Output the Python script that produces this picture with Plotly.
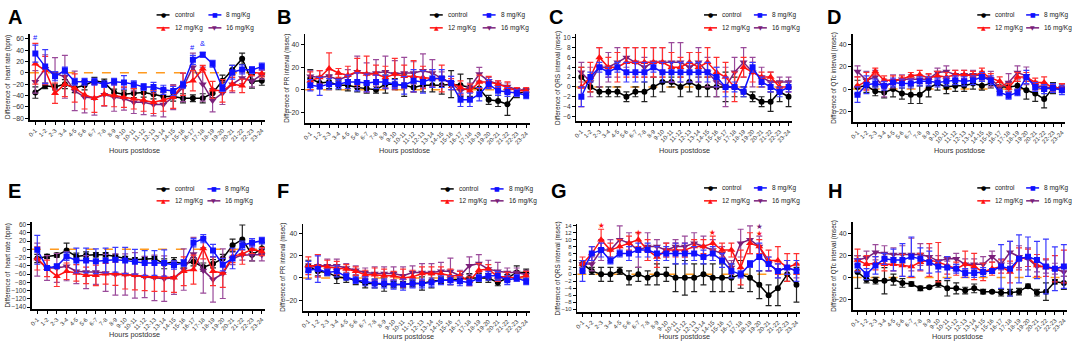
import plotly.graph_objects as go

hours = ["0-1", "1-2", "2-3", "3-4", "4-5", "5-6", "6-7", "7-8", "8-9", "9-10", "10-11", "11-12",
         "12-13", "13-14", "14-15", "15-16", "16-17", "17-18", "18-19", "19-20", "20-21", "21-22",
         "22-23", "23-24"]
series_names = ["control", "8 mg/Kg", "12 mg/Kg", "16 mg/Kg"]

# ---- Panel A: heart rate (top row)
A_ctrl = [-35, -23, -25, -20, -27, -22, -14, -17, -35, -38, -36, -35, -38, -42, -42, -45, -45, -45, -36, -14, 5, 25, -15, -14]
A_8 = [34, 11, -6, 4, -16, -16, -16, -20, -16, -17, -20, -25, -25, -30, -32, -21, 23, 32, 16, -27, 1, 6, 5, 11]
A_12 = [16, 4, -36, -20, -27, -39, -45, -38, -40, -43, -46, -48, -52, -48, -43, -20, -14, 7, -30, -32, -20, -23, 1, -1]
A_16 = [-16, 7, -1, -7, -32, -43, -45, -39, -43, -46, -52, -52, -56, -56, -43, -26, 10, -20, -49, -36, -20, -9, -15, -3]
A_ctrl_e = [10, 5, 5, 8, 8, 8, 6, 6, 6, 6, 8, 8, 8, 8, 8, 8, 6, 8, 8, 10, 8, 10, 12, 8]
A_8_e = [15, 30, 8, 6, 6, 6, 6, 6, 6, 12, 6, 6, 8, 8, 8, 6, 8, 4, 6, 6, 12, 8, 6, 6]
A_12_e = [36, 25, 18, 22, 25, 25, 25, 20, 20, 18, 18, 20, 20, 20, 20, 20, 18, 6, 15, 20, 12, 12, 6, 6]
A_16_e = [20, 25, 28, 38, 35, 28, 30, 20, 25, 20, 20, 22, 20, 22, 22, 25, 25, 30, 20, 20, 15, 10, 10, 8]

# ---- Panel B: PR interval
B_ctrl = [10, 6, 7, 4, 4, 2, 1, 0, 5, 5, 4, 2, 4, 4, 4, 5, 4, 2, 1, -9, -10, -13, -3, -2]
B_8 = [4, 3, 5, 5, 7, 7, 6, 7, 7, 5, 4, 8, 7, 10, 10, 6, -9, -9, -4, 5, -1, -2, -3, -5]
B_12 = [8, 11, 19, 15, 13, 16, 14, 14, 11, 14, 12, 12, 11, 10, 10, 6, 2, -1, 7, 7, 5, 2, -1, -1]
B_16 = [12, 11, 12, 9, 12, 16, 14, 15, 16, 14, 15, 15, 17, 15, 10, 6, -1, 2, 14, 8, 5, 3, 0, -0.5]
B_ctrl_e = [8, 5, 6, 4, 5, 4, 4, 3, 8, 5, 10, 4, 6, 6, 8, 12, 10, 8, 6, 4, 5, 10, 4, 3]
B_8_e = [5, 8, 5, 4, 6, 8, 8, 6, 6, 4, 8, 10, 10, 8, 8, 6, 6, 6, 6, 4, 4, 4, 3, 3]
B_12_e = [8, 6, 14, 4, 8, 12, 16, 8, 10, 14, 10, 14, 10, 8, 12, 4, 6, 6, 6, 5, 3, 5, 3, 3]
B_16_e = [5, 6, 6, 5, 6, 14, 10, 12, 14, 12, 14, 10, 15, 12, 6, 6, 4, 4, 6, 3, 3, 3, 2, 2]

# ---- Panel C: QRS interval
C_ctrl = [2, 0, -1, -1, -1, -2, -1, -1, 0, 1, 1, 0, 1, 0, 0, 0, 0, 0, -1, -2, -3, -3, -1, -2]
C_8 = [-2, 2, 4, 3, 4, 3, 3, 3, 4, 3, 3, 3, 3, 3, 3, 2, 0, 0, -1, 4, 1, 0, -1, 0]
C_12 = [0, 2, 6, 4, 4, 5, 5, 5, 5, 5, 4, 4, 5, 4, 5, 3, 2, 0, 4, 3, 2, 2, 0, 0]
C_16 = [3, 1, 4, 4, 5, 6, 5, 4, 5, 5, 5, 5, 4, 5, 3, 1, 0, 3, 5, 3, 2, 1, 1, 1]
C_ctrl_e = [2, 1, 1, 1, 1, 1, 1, 2, 2, 2, 1, 2, 2, 2, 2, 2, 3, 2, 1, 1, 1, 2, 2, 2]
C_8_e = [2, 1, 1, 1, 1, 2, 2, 2, 1, 2, 2, 2, 2, 2, 2, 2, 2, 1, 1, 1, 1, 1, 1, 1]
C_12_e = [4, 3, 2, 2, 3, 3, 3, 3, 3, 3, 3, 2, 2, 3, 3, 3, 3, 3, 2, 2, 1, 1, 1, 1]
C_16_e = [2, 3, 4, 3, 3, 2, 3, 2, 3, 3, 4, 4, 3, 3, 3, 3, 4, 3, 3, 3, 2, 2, 1, 1]

# ---- Panel D: QTc interval
D_ctrl = [2, 3, -2, -3, 0, -4, -5, -5, 1, 5, 2, 3, 3, 5, 3, 5, 2, 2, 3, -1, -4, -9, 1, 1]
D_8 = [-5, 4, 5, 3, 6, 5, 5, 7, 7, 6, 7, 8, 7, 8, 11, 8, -3, -6, -3, 11, 2, 0, 1, -1]
D_12 = [3, 7, 16, 8, 8, 9, 12, 13, 10, 12, 11, 13, 13, 12, 15, 10, 7, 1, 11, 11, 6, 6, 1, 1]
D_16 = [16, 8, 11, 1, 7, 9, 9, 9, 9, 15, 16, 13, 13, 13, 12, 9, 2, 6, 15, 12, 3, 2, 1, 1]
D_ctrl_e = [6, 6, 4, 5, 7, 5, 8, 8, 8, 6, 6, 5, 5, 5, 4, 4, 4, 4, 4, 8, 7, 8, 5, 4]
D_8_e = [7, 8, 4, 4, 4, 4, 4, 4, 4, 4, 4, 4, 4, 4, 4, 4, 3, 3, 3, 6, 4, 4, 4, 4]
D_12_e = [8, 8, 3, 4, 4, 3, 3, 4, 4, 4, 4, 4, 4, 4, 4, 4, 4, 4, 4, 4, 4, 5, 4, 4]
D_16_e = [5, 8, 6, 8, 6, 4, 4, 4, 4, 4, 5, 4, 4, 4, 4, 7, 4, 8, 6, 8, 4, 4, 3, 3]

# ---- Panel E: heart rate (bottom row)
E_ctrl = [-22, -17, -14, -3, -17, -14, -13, -13, -17, -22, -25, -23, -22, -35, -30, -35, -30, -43, -35, -22, 10, 24, -13, 2]
E_8 = [-1, -45, -41, -17, -27, -27, -29, -27, -25, -27, -30, -33, -33, -33, -38, -33, 16, 26, -3, -37, -22, 10, 16, 21]
E_12 = [-22, -46, -65, -53, -57, -63, -63, -59, -59, -61, -63, -65, -67, -67, -69, -53, -49, 2, -53, -57, -17, -11, 0, -5]
E_16 = [-25, -45, -45, -41, -53, -55, -55, -57, -61, -61, -63, -67, -69, -71, -69, -49, -11, -51, -73, -59, -22, -14, -13, -13]
E_ctrl_e = [10, 5, 5, 18, 8, 8, 5, 5, 5, 5, 5, 5, 5, 12, 10, 10, 10, 10, 10, 10, 15, 35, 15, 15]
E_8_e = [35, 5, 5, 10, 30, 30, 30, 30, 30, 32, 30, 30, 30, 32, 10, 8, 10, 10, 15, 15, 25, 10, 10, 8]
E_12_e = [28, 20, 25, 20, 20, 20, 25, 25, 28, 35, 35, 35, 35, 35, 35, 35, 35, 25, 35, 35, 15, 25, 10, 10]
E_16_e = [40, 30, 35, 35, 30, 40, 30, 45, 50, 50, 55, 50, 55, 55, 40, 50, 40, 55, 55, 60, 15, 12, 15, 15]

# ---- Panel F: PR interval
F_ctrl = [11, 6, 5, 1, 0, -2, -5, -5, -6, -6, -6, -5, -5, -3, -2, -2, -1, 0, 0, 0, -4, 0, 5, 5]
F_8 = [7, 8, 5, 6, 1, -2, -3, -5, -5, -6, -6, -5, -5, -4, -2, -2, -3, -4, 0, 2, 2, -2, 0, -3]
F_12 = [11, 11, 10, 9, 8, 6, 3, 3, 2, 2, 0, 1, 4, 4, 4, 2, 2, -3, 7, 8, 1, 1, 0, 2]
F_16 = [9, 11, 11, 11, 9, 7, 5, 4, 4, 4, 2, 5, 5, 5, 6, 6, 2, 11, 13, 8, 6, 5, 5, 3]
F_ctrl_e = [5, 4, 3, 6, 4, 4, 4, 4, 6, 3, 3, 3, 6, 6, 3, 4, 4, 4, 4, 4, 3, 3, 6, 3]
F_8_e = [8, 12, 3, 5, 3, 3, 4, 4, 4, 4, 5, 4, 4, 4, 4, 4, 4, 3, 3, 4, 4, 4, 3, 3]
F_12_e = [8, 10, 6, 6, 4, 4, 4, 6, 6, 4, 8, 6, 6, 6, 6, 6, 4, 4, 6, 4, 4, 4, 3, 4]
F_16_e = [4, 10, 6, 6, 4, 4, 4, 6, 6, 6, 8, 6, 8, 8, 8, 12, 5, 8, 8, 8, 8, 4, 4, 4]

# ---- Panel G: QRS interval
G_ctrl = [3, 1, 0, 0, 1, -1, 0, -1, 0, 0, -1, -1, -1, 0, -1, -1, -1, 0, -1, -3, -6, -4, 0, -3]
G_8 = [1, 6, 7, 4, 6, 6, 7, 7, 6, 6, 6, 6, 6, 5, 6, 4, 1, 0, 3, 5, 3, 1, 2, 1]
G_12 = [3, 6, 10, 7, 8, 9, 10, 7, 5, 7, 7, 7, 8, 8, 9, 7, 7, 2, 9, 8, 4, 4, 2, 3]
G_16 = [3, 3, 7, 7, 10, 9, 7, 8, 8, 7, 8, 8, 9, 8, 7, 6, 2, 9, 10, 8, 3, 1, 2, 1]
G_ctrl_e = [1, 1, 2, 2, 1, 2, 2, 2, 3, 2, 4, 5, 4, 3, 4, 4, 4, 4, 4, 4, 3, 5, 2, 5]
G_8_e = [3, 2, 2, 1, 1, 2, 2, 2, 2, 2, 3, 3, 2, 2, 2, 2, 2, 1, 1, 4, 2, 2, 2, 3]
G_12_e = [2, 2, 3, 2, 2, 2, 2, 3, 3, 2, 2, 2, 2, 2, 2, 2, 2, 5, 3, 2, 3, 4, 4, 3]
G_16_e = [1, 2, 3, 3, 4, 3, 5, 4, 2, 2, 2, 3, 3, 3, 3, 2, 2, 4, 4, 3, 2, 2, 2, 2]

# ---- Panel H: QTc interval
H_ctrl = [5, -2, -3, -3, -2, -5, -6, -10, -9, -6, -10, -10, -12, -10, -13, -13, -14, -14, -13, -8, -14, -13, -4, -5]
H_8 = [11, 3, 11, 17, 16, 16, 19, 17, 14, 10, 9, 8, 4, 4, 5, 6, 10, 8, 17, 19, 16, 10, 8, 10]
H_12 = [16, 12, 13, 12, 12, 11, 10, 14, 16, 14, 11, 8, 12, 10, 5, 8, 10, 5, 17, 18, 11, 9, 8, 10]
H_16 = [16, 18, 23, 22, 21, 21, 21, 21, 19, 15, 17, 17, 12, 12, 12, 19, 12, 23, 19, 17, 10, 10, 8, 5]
H_ctrl_e = [15, 3, 3, 12, 5, 4, 2, 2, 1, 3, 7, 5, 3, 4, 2, 1, 3, 3, 3, 2, 3, 8, 2, 6]
H_8_e = [6, 5, 8, 5, 10, 15, 18, 10, 10, 5, 10, 4, 4, 4, 4, 2, 20, 25, 22, 18, 17, 25, 20, 20]
H_12_e = [10, 8, 6, 6, 6, 10, 10, 8, 15, 18, 8, 6, 12, 12, 8, 6, 6, 10, 10, 8, 10, 8, 12, 15]
H_16_e = [4, 6, 7, 7, 6, 8, 15, 10, 8, 5, 2, 5, 5, 5, 7, 5, 5, 10, 10, 10, 5, 6, 5, 4]

# y-axis titles and ticks
ytitle_hr = "Difference of  heart rate (bpm)"
ytitle_pr = "Difference of PR interval (msec)"
ytitle_qrs = "Difference of QRS interval (msec)"
ytitle_qtc = "Difference of QTc interval (msec)"
ticks_hr_top = [-80, -60, -40, -20, 0, 20, 40, 60]
ticks_hr_bot = [-140, -120, -100, -80, -60, -40, -20, 0, 20, 40, 60]
ticks_pr = [-20, 0, 20, 40]
ticks_qrs_top = [-6, -4, -2, 0, 2, 4, 6, 8, 10]
ticks_qrs_bot = [-10, -8, -6, -4, -2, 0, 2, 4, 6, 8, 10, 12, 14]

W, H = 1072, 347
FONT = "Liberation Sans, Arial, sans-serif"
colors = ["#000000", "#1010ff", "#ff1010", "#7a1f7a"]
err_colors = ["#222222", "#3a3aff", "#ff3030", "#9a4a9a"]
symbols = ["circle", "square", "triangle-up", "triangle-down"]
glyphs = ["●", "■", "▲", "▼"]
msizes = [6, 6, 7, 7]

# panel layout in pixels
panels = [
    ("A", [A_ctrl, A_8, A_12, A_16], [A_ctrl_e, A_8_e, A_12_e, A_16_e], ytitle_hr, ticks_hr_top, [-84, 69],
     27, 263, 33, 120, 3, 3, 5, 132, 150, 170, 222, 14, 27, 7),
    ("B", [B_ctrl, B_8, B_12, B_16], [B_ctrl_e, B_8_e, B_12_e, B_16_e], ytitle_pr, ticks_pr, [-30, 50],
     303, 528, 33, 123, 273, 3, 284, 403, 150, 444, 497, 14, 27, 7),
    ("C", [C_ctrl, C_8, C_12, C_16], [C_ctrl_e, C_8_e, C_12_e, C_16_e], ytitle_qrs, ticks_qrs_top, [-7, 10.8],
     575, 791, 33, 121, 546, 3, 556, 683, 150, 719, 769, 14, 27, 6.5),
    ("D", [D_ctrl, D_8, D_12, D_16], [D_ctrl_e, D_8_e, D_12_e, D_16_e], ytitle_qtc, ticks_pr, [-30, 50],
     852, 1065, 33, 122, 824, 3, 833, 959, 150, 993, 1042, 14, 27, 7),
    ("E", [E_ctrl, E_8, E_12, E_16], [E_ctrl_e, E_8_e, E_12_e, E_16_e], ytitle_hr, ticks_hr_bot, [-145, 67],
     29, 263, 222, 310, 3, 178, 5, 132, 335, 170, 221, 189, 201, 6.5),
    ("F", [F_ctrl, F_8, F_12, F_16], [F_ctrl_e, F_8_e, F_12_e, F_16_e], ytitle_pr, ticks_pr, [-30, 49],
     301, 528, 224, 312, 273, 178, 281, 407, 337, 455, 505, 189, 201, 7),
    ("G", [G_ctrl, G_8, G_12, G_16], [G_ctrl_e, G_8_e, G_12_e, G_16_e], ytitle_qrs, ticks_qrs_bot, [-10.9, 14.6],
     576, 799, 224, 313, 548, 178, 557, 683, 337, 719, 769, 188, 201, 6),
    ("H", [H_ctrl, H_8, H_12, H_16], [H_ctrl_e, H_8_e, H_12_e, H_16_e], ytitle_qtc, ticks_pr, [-30, 51],
     852, 1067, 222, 311, 825, 178, 833, 957, 337, 993, 1042, 188, 201, 7),
]

fig = go.Figure()
layout = dict(width=W, height=H, margin=dict(l=0, r=0, t=0, b=0),
              paper_bgcolor="white", plot_bgcolor="white", showlegend=False,
              font=dict(family=FONT, color="#222"))
annotations = []
shapes = []

order = [0, 3, 2, 1]
for p, (letter, data, errs, ytitle, ticks, yrange, L, R, T, B, lx, ly, ytx, xtx, xty,
        c1, c2, r1, r2, yfs) in enumerate(panels):
    ax = "" if p == 0 else str(p + 1)
    xa, ya = "x" + ax, "y" + ax
    layout["xaxis" + ax] = dict(domain=[L / W, R / W], anchor=ya, type="category",
                                range=[-0.55, 23.35], tickmode="array", tickvals=hours, ticktext=hours,
                                showline=True, linecolor="black", linewidth=1.5,
                                ticks="outside", ticklen=3, tickwidth=1, tickcolor="black",
                                tickangle=-45, tickfont=dict(size=6, color="#333", family=FONT),
                                showgrid=False, zeroline=False, fixedrange=True)
    layout["yaxis" + ax] = dict(domain=[1 - B / H, 1 - T / H], anchor=xa, range=yrange,
                                tickvals=ticks, showline=True, linecolor="black", linewidth=1.5,
                                ticks="outside", ticklen=3, tickwidth=1, tickcolor="black",
                                tickfont=dict(size=yfs, color="#333", family=FONT),
                                showgrid=False, zeroline=False, fixedrange=True)
    shapes.append(dict(type="line", xref=xa + " domain", yref=ya, x0=0, x1=1, y0=0, y1=0,
                       line=dict(color="#ff9a1f", width=1.5, dash="dash"), layer="below"))
    for s in order:
        fig.add_trace(go.Scatter(
            x=hours, y=data[s], xaxis=xa, yaxis=ya, name=series_names[s],
            mode="lines+markers",
            line=dict(color=colors[s], width=1.5),
            marker=dict(symbol=symbols[s], size=msizes[s], color=colors[s]),
            error_y=dict(type="data", array=errs[s], visible=True, color=err_colors[s],
                         thickness=1.2, width=3),
        ))
    # per-panel legend (line sample + symbol + label)
    for s in range(4):
        tx = c1 if s in (0, 2) else c2
        ry = r1 if s in (0, 1) else r2
        shapes.append(dict(type="line", xref="paper", yref="paper",
                           x0=(tx - 16) / W, x1=(tx - 3) / W, y0=1 - ry / H, y1=1 - ry / H,
                           line=dict(color=colors[s], width=1.5)))
        annotations.append(dict(text=glyphs[s], xref="paper", yref="paper", x=(tx - 9.5) / W,
                                y=1 - ry / H, xanchor="center", yanchor="middle", showarrow=False,
                                font=dict(size=6, color=colors[s], family="DejaVu Sans")))
        annotations.append(dict(text=series_names[s], xref="paper", yref="paper", x=tx / W,
                                y=1 - ry / H, xanchor="left", yanchor="middle", showarrow=False,
                                font=dict(size=6.5, color="#222", family=FONT)))
    annotations.append(dict(text="<b>%s</b>" % letter, xref="paper", yref="paper",
                            x=lx / W, y=1 - ly / H, xanchor="left", yanchor="top",
                            showarrow=False, font=dict(size=20, family=FONT, color="black")))
    annotations.append(dict(text=ytitle, xref="paper", yref="paper", x=ytx / W,
                            y=1 - (T + B) / 2 / H, xanchor="center", yanchor="middle",
                            textangle=-90, showarrow=False,
                            font=dict(size=6.3, family=FONT, color="#222")))
    annotations.append(dict(text="Hours postdose", xref="paper", yref="paper", x=xtx / W,
                            y=1 - xty / H, xanchor="center", yanchor="middle", showarrow=False,
                            font=dict(size=7.3, family=FONT, color="#333")))

# significance markers
sig_A = [("0-1", 62, "#", "#1010ff"), ("16-17", 45, "#", "#1010ff"), ("17-18", 52, "&", "#1010ff")]
sig_G = [("2-3", 14.2, "★", "#ff1010"), ("6-7", 12.0, "★", "#ff1010"), ("14-15", 12.0, "★", "#ff1010"),
         ("18-19", 14.7, "★", "#ff1010"), ("18-19", 17.2, "#", "#7a1f7a"),
         ("19-20", 13.9, "★", "#7a1f7a"), ("19-20", 11.8, "★", "#ff1010")]
for (hx, hy, t, c) in sig_A:
    annotations.append(dict(text=t, x=hx, y=hy, xref="x", yref="y", showarrow=False,
                            font=dict(size=7.5, color=c, family=FONT)))
for (hx, hy, t, c) in sig_G:
    annotations.append(dict(text=t, x=hx, y=hy, xref="x7", yref="y7", showarrow=False,
                            font=dict(size=7.5, color=c, family="DejaVu Sans")))

layout["annotations"] = annotations
layout["shapes"] = shapes
fig.update_layout(**layout)
fig.write_html("out.html", config={"displayModeBar": False, "staticPlot": True},
               post_script="document.body.style.margin='0';document.body.style.padding='0';"
                           "document.body.style.overflow='hidden';")
